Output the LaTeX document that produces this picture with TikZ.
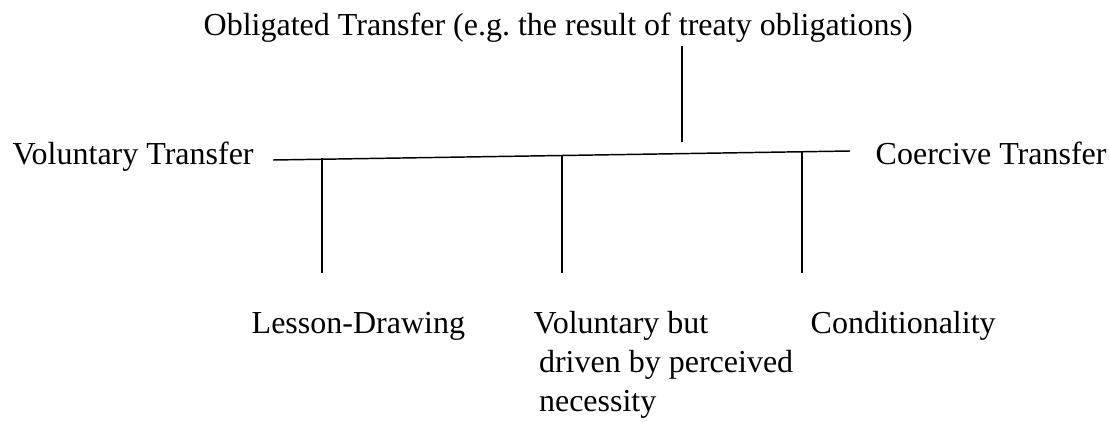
\documentclass[tikz,border=0pt]{standalone}
\usepackage{fontspec}
\setmainfont{Liberation Serif}
\begin{document}
\begin{tikzpicture}[x=0.75pt, y=-0.75pt, line width=1.1pt, every node/.style={inner sep=0pt, anchor=base west, font=\fontsize{24}{29.25}\selectfont}]
	\useasboundingbox (0,0) rectangle (1109,421);
	\node(obl) at (203,36) {Obligated Transfer (e.g.\ the result of treaty obligations)};
	\node(vol) at (12,164) {Voluntary Transfer};
	\node(coe) at (875,164) {Coercive Transfer};
	\node(les) at (251,333) {Lesson-Drawing};
	\node[align=left](vbd) at (533,411) {Voluntary but\\\hspace*{4pt}driven by perceived\\\hspace*{4pt}necessity};
	\node(con) at (810,333) {Conditionality};
	\coordinate(left) at (273,160);
	\coordinate(right) at (850,151);
	\coordinate(stemtop) at (682,46);
	\coordinate(stembot) at (682,142);
	\draw (left) -- (right);
	\draw (stemtop) -- (stembot);
	\foreach \name/\x/\y in {les/322/158, vbd/562/154.5, con/802/150.5}{
		\coordinate(\name top) at (\x,\y);
		\coordinate(\name bot) at (\x,273);
		\draw (\name top) -- (\name bot);
	}
\end{tikzpicture}
\end{document}
